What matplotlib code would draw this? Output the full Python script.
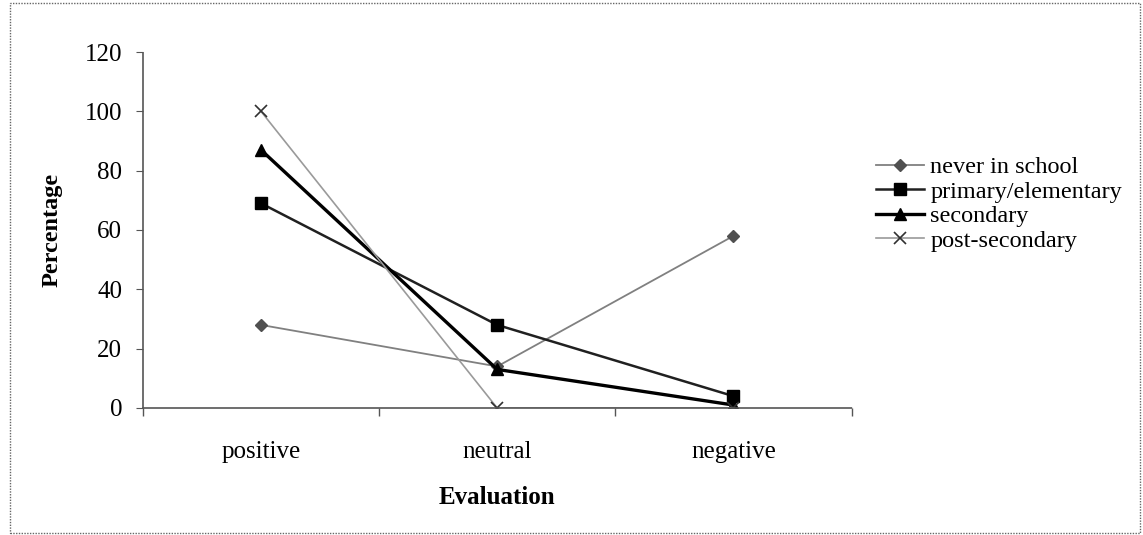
import numpy as np
import matplotlib.pyplot as plt
from matplotlib.patches import Rectangle

# evaluation by level of schooling (percent)
categories = ['positive', 'neutral', 'negative']
never_in_school = [28, 14, 58]
primary = [69, 28, 4]
secondary = [87, 13, 1]
post_secondary = [100, 0, 0]

plt.rcParams['font.family'] = ['Liberation Serif', 'DejaVu Serif']

fig = plt.figure(figsize=(11.43, 5.35), dpi=100)
ax = fig.add_axes([0.125, 0.2374, 0.620, 0.6654])

x = np.arange(len(categories))

ax.plot(x, never_in_school, color='#808080', lw=1.3, marker='D', ms=6,
        mfc='#505050', mec='#505050', label='never in school')
ax.plot(x, primary, color='#202020', lw=1.8, marker='s', ms=8,
        mfc='black', mec='black', label='primary/elementary')
ax.plot(x, secondary, color='black', lw=2.4, marker='^', ms=9,
        mfc='black', mec='black', label='secondary')
ax.plot(x, post_secondary, color='#9a9a9a', lw=1.2, marker='x', ms=9,
        mec='#303030', mew=1.2, label='post-secondary')

ax.set_xlim(-0.5, 2.5)
ax.set_ylim(0, 120)
ax.set_yticks(np.arange(0, 121, 20))
ax.set_xticks(x)
ax.set_xticklabels(categories, fontsize=18)
ax.set_xticks([-0.5, 0.5, 1.5, 2.5], minor=True)
ax.tick_params(axis='x', which='major', length=0, pad=24)
ax.tick_params(axis='x', which='minor', length=6, color='#555555', width=1)
ax.tick_params(axis='y', length=5, color='#555555', labelsize=18, pad=10)

for side in ['top', 'right']:
    ax.spines[side].set_visible(False)
for side in ['left', 'bottom']:
    ax.spines[side].set_color('#555555')
    ax.spines[side].set_linestyle((0, (1, 1)))
    ax.spines[side].set_linewidth(1.2)

ax.set_ylabel('Percentage', fontsize=17.5, fontweight='bold', labelpad=16)
ax.set_xlabel('Evaluation', fontsize=18, fontweight='bold', labelpad=16)

fig.legend(loc='center left', bbox_to_anchor=(0.747, 0.619), frameon=False,
           fontsize=17.5, handlelength=2.0, handletextpad=0.25, labelspacing=0.1)

# dotted frame around the whole chart
fig.patches.append(Rectangle((0.009, 0.004), 0.988, 0.99, transform=fig.transFigure,
                             fill=False, ec='#666666', lw=1, ls=(0, (1, 1))))

fig.savefig('out.png', dpi=100)
